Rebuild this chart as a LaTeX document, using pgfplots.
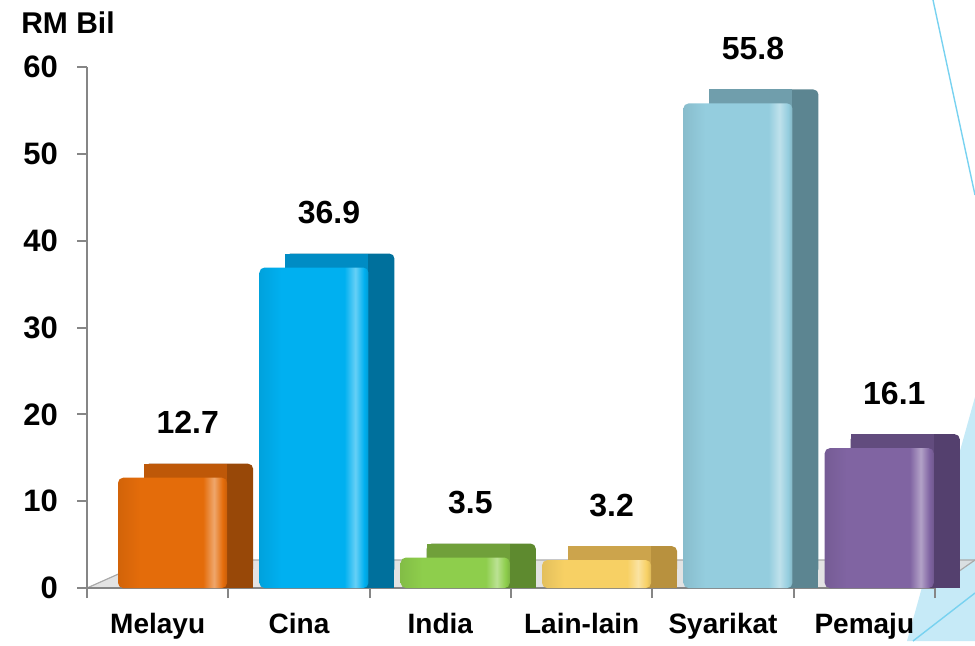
\documentclass[border=0pt]{standalone}
\usepackage{pgfplots}
\pgfplotsset{compat=1.18}
\usepackage{fontspec}
\setmainfont{Liberation Sans}

\definecolor{axisgray}{RGB}{134,134,134}
\definecolor{decoF}{RGB}{198,234,247}
\definecolor{decoL}{RGB}{120,210,240}
\definecolor{floorC}{RGB}{222,222,222}
\definecolor{floorE}{RGB}{170,170,170}

\definecolor{melF}{RGB}{228,108,10}
\definecolor{melT}{RGB}{190,88,8}
\definecolor{melS}{RGB}{152,72,8}
\definecolor{cinF}{RGB}{0,176,240}
\definecolor{cinT}{RGB}{0,140,196}
\definecolor{cinS}{RGB}{0,112,156}
\definecolor{indF}{RGB}{142,206,76}
\definecolor{indT}{RGB}{112,160,58}
\definecolor{indS}{RGB}{94,138,47}
\definecolor{laiF}{RGB}{247,208,100}
\definecolor{laiT}{RGB}{204,164,76}
\definecolor{laiS}{RGB}{184,145,62}
\definecolor{syaF}{RGB}{148,205,222}
\definecolor{syaT}{RGB}{112,158,172}
\definecolor{syaS}{RGB}{92,133,145}
\definecolor{pemF}{RGB}{128,100,162}
\definecolor{pemT}{RGB}{98,76,126}
\definecolor{pemS}{RGB}{84,64,110}

\pgfdeclarehorizontalshading{melSh}{100bp}{color(0bp)=(melF!92!black); color(25bp)=(melF!92!black); color(35bp)=(melF); color(64bp)=(melF); color(69bp)=(melF!60!white); color(73bp)=(melF); color(75bp)=(melF!88!black); color(100bp)=(melF!88!black)}
\pgfdeclarehorizontalshading{cinSh}{100bp}{color(0bp)=(cinF!92!black); color(25bp)=(cinF!92!black); color(35bp)=(cinF); color(64bp)=(cinF); color(69bp)=(cinF!60!white); color(73bp)=(cinF); color(75bp)=(cinF!88!black); color(100bp)=(cinF!88!black)}
\pgfdeclarehorizontalshading{indSh}{100bp}{color(0bp)=(indF!92!black); color(25bp)=(indF!92!black); color(35bp)=(indF); color(64bp)=(indF); color(69bp)=(indF!60!white); color(73bp)=(indF); color(75bp)=(indF!88!black); color(100bp)=(indF!88!black)}
\pgfdeclarehorizontalshading{laiSh}{100bp}{color(0bp)=(laiF!92!black); color(25bp)=(laiF!92!black); color(35bp)=(laiF); color(64bp)=(laiF); color(69bp)=(laiF!60!white); color(73bp)=(laiF); color(75bp)=(laiF!88!black); color(100bp)=(laiF!88!black)}
\pgfdeclarehorizontalshading{syaSh}{100bp}{color(0bp)=(syaF!92!black); color(25bp)=(syaF!92!black); color(35bp)=(syaF); color(64bp)=(syaF); color(69bp)=(syaF!60!white); color(73bp)=(syaF); color(75bp)=(syaF!88!black); color(100bp)=(syaF!88!black)}
\pgfdeclarehorizontalshading{pemSh}{100bp}{color(0bp)=(pemF!92!black); color(25bp)=(pemF!92!black); color(35bp)=(pemF); color(64bp)=(pemF); color(69bp)=(pemF!60!white); color(73bp)=(pemF); color(75bp)=(pemF!88!black); color(100bp)=(pemF!88!black)}

\pgfplotsset{
  sidebase/.style={ybar, bar width=0.7714, bar shift=0.2895, draw=none},
  sidebar/.style={ybar, bar width=0.7714, bar shift=0.2895, draw=none, yshift=7pt, rounded corners=2.5pt},
  topbar/.style={ybar, bar width=0.5874, bar shift=0.1975, draw=none, yshift=7pt},
  frontbar/.style={ybar, bar width=0.7714, bar shift=0.1055, draw=none, rounded corners=2.5pt, shade,
    nodes near coords={\pgfmathprintnumber[fixed,fixed zerofill,precision=1]{\pgfplotspointmeta}},
    nodes near coords style={font=\bfseries\fontsize{16}{19}\selectfont, anchor=center, yshift=27.5pt, xshift=15pt, text=black}},
}

\begin{document}
\begin{tikzpicture}
\begin{scope}[x=0.5pt,y=-0.5pt]
  \useasboundingbox (0,0) rectangle (975,641);
  \fill[decoF] (975,397) -- (907,641) -- (975,641) -- cycle;
  \draw[decoL, line width=0.7pt] (933,0) -- (975,195);
  \draw[decoL, line width=0.7pt] (913,641) -- (975,593);
  \fill[floorC, opacity=0.85] (87,588) -- (935,588) -- (975,560) -- (150,560) -- cycle;
  \draw[floorE, line width=0.6pt] (87,588) -- (150,560) -- (975,560);
  \draw[floorE, line width=0.6pt] (935,588) -- (975,560);
  \node[font=\bfseries\fontsize{15}{18}\selectfont, inner sep=0pt] at (68,23) {RM Bil};
\end{scope}
\begin{axis}[
  at={(43.5pt,-294pt)}, anchor=south west,
  scale only axis, width=424pt, height=260.5pt,
  xmin=-0.5, xmax=5.5, ymin=0, ymax=60, clip=false,
  axis x line*=bottom, axis y line*=left,
  axis line style={color=axisgray, line width=1pt},
  tick align=outside, major tick length=5pt,
  tick style={color=axisgray, line width=1pt},
  ytick={0,10,20,30,40,50,60},
  xtick={-0.5,0.5,1.5,2.5,3.5,4.5,5.5},
  xticklabels={,,,,,,},
  extra x ticks={0,1,2,3,4,5},
  extra x tick labels={Melayu,Cina,India,Lain-lain,Syarikat,Pemaju},
  extra x tick style={major tick length=0pt, xticklabel style={font=\bfseries\fontsize{14}{17}\selectfont, anchor=north, yshift=-9pt}},
  /pgf/number format/assume math mode=true,
  yticklabel style={font=\bfseries\fontsize{15.5}{18}\selectfont, xshift=-6pt},
]
% Melayu
\addplot[sidebase, fill=melS] coordinates {(0,12.7)};
\addplot[sidebar, fill=melS] coordinates {(0,12.7)};
\addplot[topbar, fill=melT] coordinates {(0,12.7)};
\addplot[frontbar, shading=melSh] coordinates {(0,12.7)};
% Cina
\addplot[sidebase, fill=cinS] coordinates {(1,36.9)};
\addplot[sidebar, fill=cinS] coordinates {(1,36.9)};
\addplot[topbar, fill=cinT] coordinates {(1,36.9)};
\addplot[frontbar, shading=cinSh] coordinates {(1,36.9)};
% India
\addplot[sidebase, fill=indS] coordinates {(2,3.5)};
\addplot[sidebar, fill=indS] coordinates {(2,3.5)};
\addplot[topbar, fill=indT] coordinates {(2,3.5)};
\addplot[frontbar, shading=indSh] coordinates {(2,3.5)};
% Lain-lain
\addplot[sidebase, fill=laiS] coordinates {(3,3.2)};
\addplot[sidebar, fill=laiS] coordinates {(3,3.2)};
\addplot[topbar, fill=laiT] coordinates {(3,3.2)};
\addplot[frontbar, shading=laiSh] coordinates {(3,3.2)};
% Syarikat
\addplot[sidebase, fill=syaS] coordinates {(4,55.8)};
\addplot[sidebar, fill=syaS] coordinates {(4,55.8)};
\addplot[topbar, fill=syaT] coordinates {(4,55.8)};
\addplot[frontbar, shading=syaSh] coordinates {(4,55.8)};
% Pemaju
\addplot[sidebase, fill=pemS] coordinates {(5,16.1)};
\addplot[sidebar, fill=pemS] coordinates {(5,16.1)};
\addplot[topbar, fill=pemT] coordinates {(5,16.1)};
\addplot[frontbar, shading=pemSh] coordinates {(5,16.1)};
\end{axis}
\end{tikzpicture}
\end{document}
